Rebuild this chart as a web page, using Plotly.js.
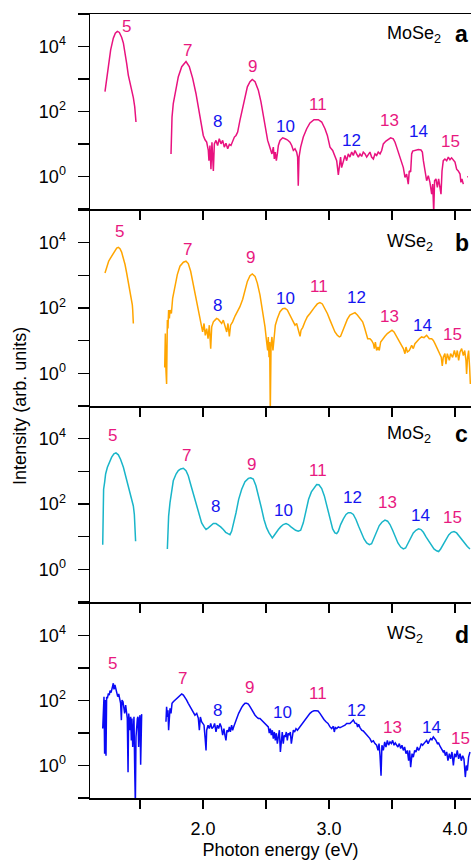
<!DOCTYPE html>
<html>
<head>
<meta charset="utf-8">
<script src="https://cdn.plot.ly/plotly-3.0.1.min.js"></script>
<style>html,body{margin:0;padding:0;background:#fff;overflow:hidden}#chart{width:471px;height:860px}</style>
</head>
<body>
<div id="chart"></div>
<script>
// ---------- DATA ----------
// Panel a: MoSe2
const moSe2E = [1.222,1.230,1.249,1.267,1.288,1.304,1.320,1.336,1.354,1.368,1.381,1.394,1.407,1.420,1.434,1.447,1.458,1.468,null,
1.746,1.754,1.764,1.786,1.804,1.831,1.865,1.891,1.918,1.944,1.963,1.981,2.002,2.016,2.029,2.042,2.047,2.055,2.063,2.071,2.077,2.082,2.090,2.103,2.116,2.129,2.143,2.156,2.169,2.182,2.196,2.209,2.222,2.235,2.249,2.262,2.275,2.293,2.315,2.333,2.352,2.373,2.391,2.413,2.439,2.460,2.479,2.497,2.513,2.526,2.540,2.547,2.558,2.566,2.574,2.582,2.590,2.598,2.611,2.632,2.651,2.669,2.690,2.704,2.717,2.730,2.743,2.751,2.756,2.762,2.775,2.796,2.823,2.849,2.881,2.915,2.942,2.968,2.987,3.008,3.029,3.047,3.061,3.074,3.082,3.092,3.100,3.114,3.127,3.140,3.153,3.166,3.180,3.193,3.206,3.219,3.233,3.246,3.259,3.272,3.286,3.299,3.312,3.325,3.338,3.352,3.365,3.378,3.391,3.405,3.418,3.431,3.452,3.471,3.489,3.510,3.524,3.537,3.550,3.563,3.577,3.590,3.603,3.616,3.629,3.637,3.648,3.656,3.664,3.682,3.709,3.730,3.741,3.749,3.756,3.767,3.775,3.788,3.801,3.815,3.823,3.831,3.838,3.849,3.860,3.870,3.881,3.889,3.897,3.907,3.920,3.934,3.947,3.960,3.973,3.987,4.000,4.013,4.026,4.040,4.047,4.055,4.066,null,4.097,4.103];
const moSe2I = [410,650,2400,7900,18100,25800,29100,27100,19400,12700,7000,3050,1330,830,510,270,140,48,null,
5.0,68,177,514,1180,2410,3440,2410,1050,361,139,54,18.5,13.6,11.5,6.4,3.1,9.1,1.7,11.5,4.0,1.5,10.2,13.0,9.1,14.6,10.2,13.0,8.1,10.7,7.2,9.8,9.1,13.0,16.5,18.5,23.5,54,139,320,579,828,977,828,457,199,77,26.5,13.0,9.1,6.4,5.0,8.1,3.5,5.7,3.1,5.0,9.1,13.0,15.7,14.6,13.6,11.5,9.1,6.4,7.2,5.7,4.0,0.53,4.0,8.1,16.5,29.8,44.7,56.6,56.6,47.9,29.8,18.5,8.1,6.4,4.5,3.1,1.13,2.5,4.0,1.9,3.1,4.5,3.1,5.0,4.0,5.7,4.5,6.4,5.0,4.0,5.0,4.2,5.7,5.0,4.0,5.0,5.7,4.0,3.5,5.0,4.5,5.7,5.0,6.4,10.2,12.4,13.6,15.7,14.6,11.5,8.1,5.7,4.5,3.1,1.9,0.95,1.2,0.59,1.5,1.4,5.0,6.1,6.4,6.8,6.6,5.7,3.1,1.9,0.95,0.75,1.07,0.67,0.29,0.59,0.08,0.75,0.85,0.47,0.85,0.47,0.29,1.5,3.1,3.5,3.1,4.0,3.3,3.8,3.1,2.8,1.7,1.5,1.2,0.67,0.85,0.59,null,1.0,1.0];

// Panel b: WSe2
const wSe2E = [1.222,1.230,1.241,1.251,1.262,1.275,1.288,1.301,1.315,1.328,1.341,1.354,1.368,1.381,1.394,1.407,1.420,1.431,1.439,1.442,1.447,null,
1.696,1.701,1.706,1.711,1.717,1.722,1.727,1.733,1.738,1.749,1.759,1.778,1.796,1.817,1.844,1.865,1.883,1.902,1.923,1.944,1.963,1.976,1.989,1.997,2.008,2.018,2.029,2.040,2.050,2.061,2.069,2.082,2.095,2.108,2.122,2.135,2.148,2.161,2.174,2.188,2.198,2.209,2.219,2.235,2.254,2.272,2.293,2.315,2.333,2.352,2.373,2.391,2.413,2.431,2.452,2.473,2.492,2.505,2.513,2.518,2.524,2.529,2.534,2.540,2.547,2.555,2.563,2.574,2.590,2.611,2.632,2.651,2.669,2.690,2.711,2.730,2.743,2.756,2.770,2.778,2.791,2.809,2.828,2.849,2.870,2.889,2.907,2.928,2.947,2.968,2.987,3.008,3.029,3.047,3.066,3.082,3.092,3.108,3.127,3.145,3.166,3.188,3.206,3.225,3.246,3.267,3.280,3.293,3.307,3.325,3.338,3.352,3.360,3.368,3.378,3.389,3.399,3.410,3.426,3.444,3.463,3.484,3.500,3.516,3.532,3.547,3.563,3.577,3.590,3.603,3.611,3.622,3.637,3.656,3.669,3.682,3.701,3.717,3.735,3.754,3.775,3.796,3.815,3.828,3.841,3.854,3.868,3.881,3.891,3.899,3.907,3.920,3.928,3.939,3.955,3.965,3.981,3.995,4.008,4.018,4.029,4.040,4.053,4.066,4.077,4.087,4.092,4.100,4.108,4.116,4.122];
const wSe2I = [1180,1500,1900,2710,3200,3870,4910,5930,6840,7180,6530,5140,3440,2140,1180,653,320,199,124,87,33.6,null,
1.5,16.5,1.2,0.47,42.6,23.5,87,47.9,87,68,199,457,1050,1900,2520,2710,2300,1330,514,199,87,47.9,29.8,18.5,33.6,14.6,23.5,11.5,29.8,5.7,26.5,37.8,42.6,47.9,44.7,37.8,33.6,42.6,29.8,18.5,33.6,13.6,29.8,37.8,56.6,77,110,185,361,653,977,1100,931,579,252,87,26.5,9.1,5.0,13.0,3.1,9.1,0.07,7.2,13.0,5.0,11.5,29.8,47.9,77,95,98,87,61,42.6,29.8,33.6,20.9,13.6,20.9,25.2,37.8,54,68,91,110,133,146,133,98,68,42.6,26.5,18.5,14.6,13.0,13.6,19.9,29.8,44.7,61,68,72,61,47.9,37.8,26.5,16.5,11.5,11.5,10.2,8.1,5.7,9.1,5.0,6.4,5.0,9.1,11.5,13.6,16.5,18.5,20.9,18.5,14.6,11.5,9.1,7.2,5.7,4.0,6.4,4.5,5.0,7.2,5.7,8.1,10.2,11.5,13.0,12.4,14.6,11.5,11.5,10.2,8.1,6.4,4.5,3.5,3.1,1.7,3.1,4.0,1.9,4.0,2.5,4.0,3.1,5.0,3.1,5.0,2.5,4.5,5.7,3.5,5.0,2.5,0.95,3.1,5.0,1.5,0.47];

// Panel c: MoS2
const moS2E = [1.204,1.206,1.211,1.219,1.227,1.241,1.256,1.275,1.293,1.309,1.328,1.346,1.368,1.389,1.407,1.420,1.434,1.447,1.455,1.460,1.465,null,
1.717,1.722,1.727,1.738,1.751,1.764,1.786,1.804,1.823,1.844,1.865,1.883,1.905,1.928,1.950,1.971,1.989,2.008,2.024,2.042,2.061,2.082,2.103,2.122,2.140,2.161,2.180,2.198,2.214,2.227,2.241,2.262,2.283,2.307,2.333,2.360,2.378,2.399,2.420,2.442,2.463,2.484,2.505,2.524,2.540,2.550,2.563,2.579,2.598,2.616,2.637,2.659,2.677,2.698,2.717,2.735,2.756,2.775,2.796,2.817,2.838,2.860,2.881,2.902,2.920,2.942,2.963,2.987,3.008,3.029,3.047,3.061,3.074,3.092,3.114,3.135,3.153,3.172,3.193,3.214,3.235,3.256,3.278,3.299,3.320,3.338,3.357,3.378,3.399,3.420,3.444,3.465,3.484,3.505,3.526,3.547,3.569,3.590,3.608,3.629,3.648,3.669,3.690,3.711,3.730,3.749,3.770,3.791,3.812,3.833,3.854,3.870,3.886,3.907,3.928,3.950,3.971,3.992,4.013,4.034,4.055,4.077,4.098,4.119];
const moS2I = [5.7,110,284,457,828,1330,1900,2710,3440,3690,3200,2300,1330,653,320,199,124,87,47.9,20.9,7.2,null,
4.2,16.5,42.6,110,252,514,828,1050,1180,1240,1050,735,361,177,87,42.6,26.5,19.9,16.5,18.5,21.9,25.2,25.2,23.0,19.9,16.5,13.6,12.4,11.5,14.6,23.5,54,139,284,479,608,637,579,361,177,77,33.6,18.5,13.0,10.2,9.1,10.7,13.6,16.5,19.9,23.5,25.2,23.5,19.9,17.3,15.7,14.6,15.7,26.5,61,139,235,320,396,387,298,177,77,33.6,17.3,13.0,12.4,14.6,23.5,35.2,47.9,54,54,47.9,33.6,20.9,13.0,8.5,6.4,5.7,6.1,9.1,14.6,21.9,27.7,32.0,29.8,23.5,15.7,9.8,6.4,4.8,4.2,4.5,6.4,9.1,13.0,15.7,17.3,16.5,13.6,9.8,7.2,5.3,4.2,3.7,3.5,4.2,5.7,8.1,11.3,13.6,14.3,13.0,10.2,8.1,6.1,5.0,4.2];

// Panel d: WS2
const wS2E = [1.204,1.209,1.214,1.219,1.225,1.230,1.235,1.241,1.249,1.256,1.262,1.270,1.275,1.283,1.288,1.293,1.301,1.309,1.315,1.323,1.331,1.338,1.346,1.352,1.357,1.365,1.373,1.378,1.386,1.394,1.399,1.405,1.410,1.415,1.420,1.426,1.431,1.436,1.442,1.447,1.452,1.458,1.463,1.468,1.473,1.479,1.484,1.489,1.495,1.500,1.505,1.510,1.513,null,
1.706,1.711,1.717,1.722,1.727,1.733,1.738,1.746,1.754,1.764,1.778,1.791,1.804,1.817,1.831,1.844,1.857,1.870,1.883,1.897,1.910,1.923,1.936,1.950,1.963,1.971,1.979,1.989,1.997,2.008,2.016,2.024,2.029,2.040,2.050,2.061,2.071,2.082,2.092,2.103,2.114,2.124,2.135,2.145,2.156,2.166,2.174,2.182,2.190,2.201,2.209,2.217,2.227,2.235,2.243,2.251,2.262,2.272,2.283,2.293,2.307,2.320,2.333,2.346,2.360,2.373,2.386,2.399,2.413,2.426,2.439,2.452,2.465,2.479,2.492,2.505,2.518,2.526,2.534,2.542,2.550,2.558,2.566,2.574,2.582,2.590,2.598,2.606,2.614,2.622,2.629,2.637,2.645,2.653,2.661,2.669,2.677,2.685,2.693,2.701,2.709,2.717,2.727,2.738,2.749,2.759,2.770,2.786,2.801,2.817,2.833,2.849,2.865,2.881,2.897,2.913,2.928,2.944,2.960,2.976,2.992,3.008,3.021,3.034,3.042,3.050,3.061,3.074,3.087,3.100,3.114,3.127,3.140,3.153,3.166,3.180,3.193,3.206,3.219,3.227,3.235,3.246,3.259,3.272,3.286,3.299,3.312,3.325,3.338,3.352,3.365,3.378,3.389,3.397,3.405,3.413,3.420,3.431,3.442,3.452,3.463,3.473,3.484,3.495,3.505,3.516,3.526,3.537,3.547,3.558,3.569,3.579,3.590,3.600,3.611,3.622,3.632,3.640,3.648,3.659,3.669,3.680,3.690,3.701,3.711,3.722,3.733,3.743,3.754,3.764,3.775,3.786,3.796,3.807,3.817,3.828,3.838,3.849,3.860,3.870,3.881,3.894,3.907,3.915,3.923,3.934,3.944,3.955,3.965,3.976,3.987,3.997,4.008,4.018,4.029,4.040,4.050,4.061,4.071,4.082,4.090,4.098,4.108,4.119];
const wS2I = [13.6,102,130,2.3,102,2.0,130,115,164,146,199,173,235,277,336,219,298,199,164,130,157,115,81,24.7,102,91,64,39.6,72,39.6,27.7,0.62,39.6,24.7,12.1,31.3,5.9,27.7,3.7,15.3,31.3,0.70,0.06,7.5,19.5,27.7,31.3,3.7,24.7,35.2,1.05,24.7,37.8,null,
22,64,31,50,12.1,40,57,40,81,91,102,115,130,146,157,146,124,102,81,64,53,45,35,40,28,12.1,31,22,19.5,17.3,7.5,2.9,12.1,17.3,13.6,19.5,13.6,15.3,19.5,10.7,17.3,13.6,19.5,15.3,8.5,13.6,8.5,5.9,12.1,10.7,15.3,10.7,17.3,12.1,15.3,19.5,25,31,40,50,61,72,81,81,77,64,53,40,35,31,28,28,25,22,19.5,17.3,15.3,9.8,13.6,8.5,12.1,6.7,10.7,5.9,9.8,4.7,8.5,12.1,2.6,8.5,10.7,4.7,8.5,7.5,10.7,5.9,9.8,8.5,10.7,4.7,9.8,12.1,10.7,13.6,12.1,13.6,15.3,19.5,23.5,28,33,40,45,48,48,47,40,31,26,22,19.5,15.3,13.6,16,10.7,14.6,13.6,15.3,14.6,15.3,16,17.3,19.5,20,19.5,22,25,20,19.5,15.3,18.5,14.6,12.1,11.5,10,8.5,7.5,6.7,5.3,5.7,4.7,4.2,2.9,4.7,2.0,0.48,4.2,2.9,5.3,3.7,5.9,4.2,5.3,4.7,5.9,4.2,4.9,4.2,3.7,4.7,3.3,4.2,2.9,3.7,2.3,2.9,1.4,2.9,0.89,2.3,1.8,2.9,2.6,3.7,2.9,3.5,4.7,4.2,4.9,5.3,5.9,4.7,5.7,6.7,6.2,7.5,6.7,5.9,4.7,4.9,3.9,3.3,2.6,2.9,2.0,2.6,1.4,2.3,1.6,2.6,1.0,2.3,1.8,2.9,1.6,2.3,1.4,2.0,1.6,0.44,1.0,0.70,1.8,2.6];

const materials = ['MoSe<sub>2</sub>','WSe<sub>2</sub>','MoS<sub>2</sub>','WS<sub>2</sub>'];
const panelLetters = ['a','b','c','d'];
const harmonicOrders = [5,7,8,9,10,11,12,13,14,15];
const xTickVals = [1.5,2.0,2.5,3.0,3.5,4.0];
const xTickText = ['','2.0','','3.0','','4.0'];
const yTickVals = [0.1,1,10,100,1000,10000,100000];
const yTickText = ['','10<sup>0</sup>','','10<sup>2</sup>','','10<sup>4</sup>',''];

// ---------- STYLE / LAYOUT ----------
const FONT = 'Liberation Sans, Arial, Helvetica, sans-serif';
const traceColors = ['#e8127f','#ffa500','#19b5c9','#0a0af5'];
const oddColor = '#e8197f';
const evenColor = '#1414f0';
// label positions (x in eV, y in log10 units) per panel
const labelPos = [
  [[1.394,4.62],[1.878,3.87],[2.116,1.71],[2.391,3.38],[2.651,1.53],[2.915,2.23],[3.180,1.11],[3.484,1.73],[3.714,1.40],[3.965,1.08]],
  [[1.336,4.33],[1.875,3.79],[2.116,2.09],[2.378,3.56],[2.651,2.30],[2.918,2.66],[3.219,2.33],[3.484,1.75],[3.743,1.47],[3.979,1.20]],
  [[1.283,4.10],[1.865,3.49],[2.098,1.91],[2.381,3.20],[2.637,1.81],[2.915,3.02],[3.185,2.20],[3.465,2.04],[3.730,1.65],[3.979,1.58]],
  [[1.283,3.14],[1.838,2.68],[2.116,1.68],[2.365,2.40],[2.627,1.62],[2.915,2.20],[3.219,1.70],[3.502,1.17],[3.815,1.17],[4.040,0.83]]
];
const matLabelY = [0.897,0.832,0.857,0.836];

const seriesE = [moSe2E,wSe2E,moS2E,wS2E];
const seriesI = [moSe2I,wSe2I,moS2I,wS2I];
// panel index 0 (a, top) ... 3 (d, bottom); axis suffix: d -> '', c -> '2', b -> '3', a -> '4'
const suffix = ['4','3','2',''];
const domains = [[0.751,1],[0.5,0.75],[0.25,0.5],[0,0.249]];

const traces = [];
const annotations = [];
const layout = {
  width: 471, height: 860,
  margin: {l: 90, r: 0, t: 14, b: 62},
  showlegend: false,
  paper_bgcolor: '#fff', plot_bgcolor: '#fff',
  font: {family: FONT, color: '#000', size: 17}
};

for (let p = 0; p < 4; p++) {
  const s = suffix[p];
  traces.push({
    x: seriesE[p], y: seriesI[p], type: 'scatter', mode: 'lines',
    line: {color: traceColors[p], width: 1.5},
    connectgaps: false, hoverinfo: 'skip',
    xaxis: 'x' + s, yaxis: 'y' + s
  });
  const xa = {
    range: [1.103, 4.127], domain: [0, 1], anchor: 'y' + s,
    tickvals: xTickVals, ticktext: xTickText,
    ticks: 'outside', ticklen: 9, tickwidth: 1.5, tickcolor: '#000',
    showline: true, linewidth: 1.5, linecolor: '#000',
    showgrid: false, zeroline: false,
    showticklabels: p === 3, tickfont: {size: 18, family: FONT, color: '#000'},
    ticklabelstandoff: 5,
    mirror: p === 0
  };
  if (p === 3) {
    xa.title = {text: 'Photon energy (eV)', font: {size: 18, family: FONT, color: '#000'}, standoff: 13};
  } else {
    xa.matches = 'x';
  }
  const ya = {
    type: 'log', range: [-1, 5], domain: domains[p], anchor: 'x' + s,
    tickvals: yTickVals, ticktext: yTickText,
    ticks: 'outside', ticklen: 11, tickwidth: 1.5, tickcolor: '#000',
    showline: true, linewidth: 1.5, linecolor: '#000',
    showgrid: false, zeroline: false,
    tickfont: {size: 18, family: FONT, color: '#000'},
    ticklabelstandoff: 8
  };
  layout['xaxis' + s] = xa;
  layout['yaxis' + s] = ya;

  harmonicOrders.forEach((n, k) => {
    annotations.push({
      x: labelPos[p][k][0], y: labelPos[p][k][1], xref: 'x' + s, yref: 'y' + s,
      text: String(n), showarrow: false, xanchor: 'center', yanchor: 'middle',
      font: {size: 17, family: FONT, color: (n % 2 === 1) ? oddColor : evenColor}
    });
  });
  annotations.push({
    x: 0.774, y: matLabelY[p], xref: 'paper', yref: 'y' + s + ' domain',
    text: materials[p], showarrow: false, xanchor: 'left', yanchor: 'middle',
    font: {size: 18, family: FONT, color: '#000'}
  });
  annotations.push({
    x: 0.953, y: matLabelY[p], xref: 'paper', yref: 'y' + s + ' domain',
    text: '<b>' + panelLetters[p] + '</b>', showarrow: false, xanchor: 'left', yanchor: 'middle',
    font: {size: 23, family: FONT, color: '#000'}
  });
}
annotations.push({
  x: -0.184, y: 0.5, xref: 'paper', yref: 'paper',
  text: 'Intensity (arb. units)', textangle: -90, showarrow: false,
  xanchor: 'center', yanchor: 'middle',
  font: {size: 18, family: FONT, color: '#000'}
});
layout.annotations = annotations;

Plotly.newPlot('chart', traces, layout, {staticPlot: true, displayModeBar: false});
</script>
</body>
</html>
